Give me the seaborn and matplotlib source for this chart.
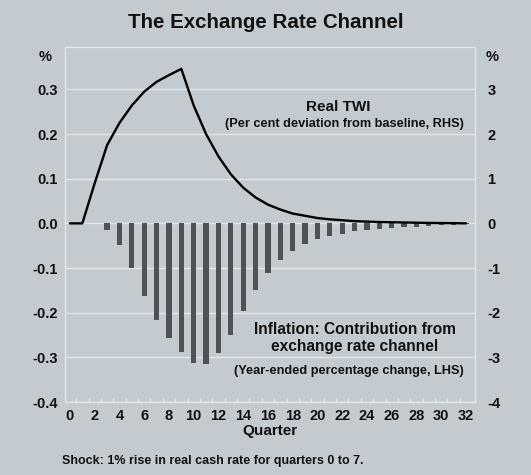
import matplotlib
matplotlib.use("Agg")
import matplotlib.pyplot as plt
import seaborn as sns
import pandas as pd
import numpy as np

# ---- data ----
quarters = list(range(0, 33))
inflation_contrib = [0, 0, 0, -0.015, -0.049, -0.100, -0.162, -0.216, -0.257, -0.289,
                     -0.313, -0.314, -0.291, -0.251, -0.197, -0.149, -0.111, -0.082,
                     -0.062, -0.047, -0.036, -0.028, -0.023, -0.018, -0.015, -0.012,
                     -0.010, -0.008, -0.007, -0.006, -0.004, -0.003, -0.002]
real_twi = [0, 0, 0.9, 1.75, 2.25, 2.64, 2.95, 3.17, 3.32, 3.46, 2.64, 2.0, 1.5, 1.1,
            0.8, 0.58, 0.42, 0.31, 0.22, 0.17, 0.12, 0.09, 0.07, 0.05, 0.04, 0.03,
            0.025, 0.02, 0.015, 0.01, 0.008, 0.005, 0.0]
left_ticks = [-0.4, -0.3, -0.2, -0.1, 0.0, 0.1, 0.2, 0.3]
left_labels = ["-0.4", "-0.3", "-0.2", "-0.1", "0.0", "0.1", "0.2", "0.3"]
right_ticks = [-4, -3, -2, -1, 0, 1, 2, 3]
right_labels = ["-4", "-3", "-2", "-1", "0", "1", "2", "3"]
x_ticks = list(range(0, 33, 2))

df = pd.DataFrame({"quarter": quarters, "inflation": inflation_contrib, "twi": real_twi})

sns.set_theme(style="white")
FONT = ["Liberation Sans", "DejaVu Sans"]
plt.rcParams["font.family"] = FONT
plt.rcParams["font.weight"] = "bold"

BG = "#c3cbd0"
GRID = "#e2e7ea"
BAR = "#4d5353"
TXT = "#111111"

fig = plt.figure(figsize=(5.31, 4.75), dpi=100, facecolor=BG)
ax = fig.add_axes([65/531, 1-402/475, (475-65)/531, (402-47)/475])
ax.set_facecolor(BG)

sns.barplot(data=df, x="quarter", y="inflation", native_scale=True, width=0.42,
            color=BAR, saturation=1, edgecolor="none", ax=ax, zorder=3)

ax.set_xlim(-0.4, 32.73)
ax.set_ylim(-0.4, 0.395)
ax.set_yticks(left_ticks)
ax.set_yticklabels(left_labels)
ax.set_xticks(x_ticks)
ax.set_xticklabels([str(t) for t in x_ticks])
ax.set_xlabel("Quarter", fontsize=11, fontweight="bold", labelpad=1, color=TXT)
ax.set_ylabel("")
for t in left_ticks:
    ax.axhline(t, color=GRID, lw=1.0, zorder=1)
for s in ax.spines.values():
    s.set_color(GRID)
    s.set_linewidth(1.0)
ax.tick_params(axis="y", length=0, pad=5, labelsize=10.5, labelcolor=TXT)
ax.tick_params(axis="x", length=0, pad=5, labelsize=10.5, labelcolor=TXT)
# small inward ticks along the bottom between bars
for q in range(0, 32):
    ax.plot([q + 0.5, q + 0.5], [-0.4, -0.392], color=GRID, lw=0.9, zorder=2)

ax2 = ax.twinx()
sns.lineplot(data=df, x="quarter", y="twi", color="black", lw=1.7, ax=ax2, zorder=4)
ax2.set_ylim(-4, 3.95)
ax2.set_yticks(right_ticks)
ax2.set_yticklabels(right_labels)
ax2.set_ylabel("")
ax2.set_xlabel("")
ax2.tick_params(axis="y", length=0, pad=9, labelsize=10.5, labelcolor=TXT)
for s in ax2.spines.values():
    s.set_visible(False)
ax2.set_xlim(-0.4, 32.73)

# text
fig.text(266/531, 1-22/475, "The Exchange Rate Channel", ha="center", va="center",
         fontsize=14.8, fontweight="bold", color=TXT)
fig.text(45/531, 1-57/475, "%", ha="center", va="center", fontsize=10.5, fontweight="bold", color=TXT)
fig.text(492/531, 1-57/475, "%", ha="center", va="center", fontsize=10.5, fontweight="bold", color=TXT)
fig.text(338/531, 1-107/475, "Real TWI", ha="center", va="center", fontsize=11,
         fontweight="bold", color=TXT)
fig.text(344/531, 1-124/475, "(Per cent deviation from baseline, RHS)", ha="center",
         va="center", fontsize=9.2, fontweight="bold", color=TXT)
fig.text(355/531, 1-330/475, "Inflation: Contribution from", ha="center", va="center",
         fontsize=11.2, fontweight="bold", color=TXT)
fig.text(355/531, 1-347/475, "exchange rate channel", ha="center", va="center",
         fontsize=11.2, fontweight="bold", color=TXT)
fig.text(349/531, 1-371/475, "(Year-ended percentage change, LHS)", ha="center",
         va="center", fontsize=9.2, fontweight="bold", color=TXT)
fig.text(62/531, 1-461/475, "Shock: 1% rise in real cash rate for quarters 0 to 7.",
         ha="left", va="center", fontsize=9, fontweight="bold", color=TXT)

fig.savefig("out.png", dpi=100, facecolor=BG)
